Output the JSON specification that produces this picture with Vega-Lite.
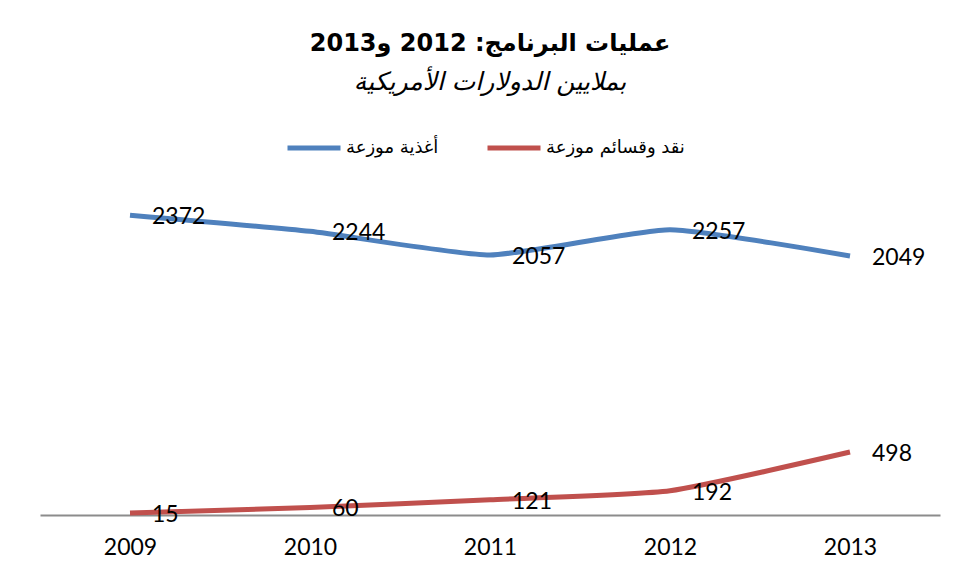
{
  "$schema": "https://vega.github.io/schema/vega-lite/v6.json",
  "width": 900,
  "height": 316,
  "autosize": {"type": "none"},
  "padding": {"left": 40, "top": 199, "right": 16, "bottom": 64},
  "background": "white",
  "config": {"view": {"stroke": null}},
  "title": {
    "text": "عمليات البرنامج: 2012 و2013",
    "subtitle": "بملايين الدولارات الأمريكية",
    "font": "DejaVu Sans",
    "fontSize": 24,
    "fontWeight": "bold",
    "color": "black",
    "subtitleFont": "DejaVu Sans",
    "subtitleFontSize": 25,
    "subtitleFontStyle": "italic",
    "subtitleColor": "black",
    "subtitlePadding": 14,
    "anchor": "middle",
    "offset": 24
  },
  "data": {
    "values": [
      {"year": "2009", "series": "أغذية موزعة", "value": 2372},
      {"year": "2010", "series": "أغذية موزعة", "value": 2244},
      {"year": "2011", "series": "أغذية موزعة", "value": 2057},
      {"year": "2012", "series": "أغذية موزعة", "value": 2257},
      {"year": "2013", "series": "أغذية موزعة", "value": 2049},
      {"year": "2009", "series": "نقد وقسائم موزعة", "value": 15},
      {"year": "2010", "series": "نقد وقسائم موزعة", "value": 60},
      {"year": "2011", "series": "نقد وقسائم موزعة", "value": 121},
      {"year": "2012", "series": "نقد وقسائم موزعة", "value": 192},
      {"year": "2013", "series": "نقد وقسائم موزعة", "value": 498}
    ]
  },
  "encoding": {
    "x": {
      "field": "year",
      "type": "ordinal",
      "scale": {"type": "point", "padding": 0.5},
      "axis": {
        "title": null,
        "labelAngle": 0,
        "ticks": false,
        "domainColor": "#8c8c8c",
        "domainWidth": 2,
        "labelFont": "Lato",
        "labelFontSize": 23,
        "labelColor": "black",
        "labelPadding": 21,
        "labelBaseline": "top"
      }
    },
    "y": {
      "field": "value",
      "type": "quantitative",
      "scale": {"domain": [0, 2500], "nice": false, "zero": true},
      "axis": null
    }
  },
  "layer": [
    {
      "mark": {"type": "line", "interpolate": "cardinal", "tension": 0.5, "strokeWidth": 5},
      "encoding": {
        "color": {
          "field": "series",
          "type": "nominal",
          "scale": {
            "domain": ["أغذية موزعة", "نقد وقسائم موزعة"],
            "range": ["#4F81BD", "#C0504D"]
          },
          "legend": {
            "title": null,
            "orient": "none",
            "direction": "horizontal",
            "legendX": 245,
            "legendY": -80,
            "symbolType": "stroke",
            "symbolSize": 2809,
            "symbolStrokeWidth": 5,
            "labelFont": "DejaVu Sans",
            "labelFontSize": 18,
            "labelColor": "black",
            "labelOffset": 3,
            "columnPadding": 38,
            "labelLimit": 300
          }
        }
      }
    },
    {
      "mark": {
        "type": "text",
        "align": "left",
        "baseline": "middle",
        "dx": 22,
        "dy": 2,
        "font": "Lato",
        "fontSize": 23,
        "color": "black"
      },
      "encoding": {"text": {"field": "value", "type": "quantitative"}}
    }
  ]
}
